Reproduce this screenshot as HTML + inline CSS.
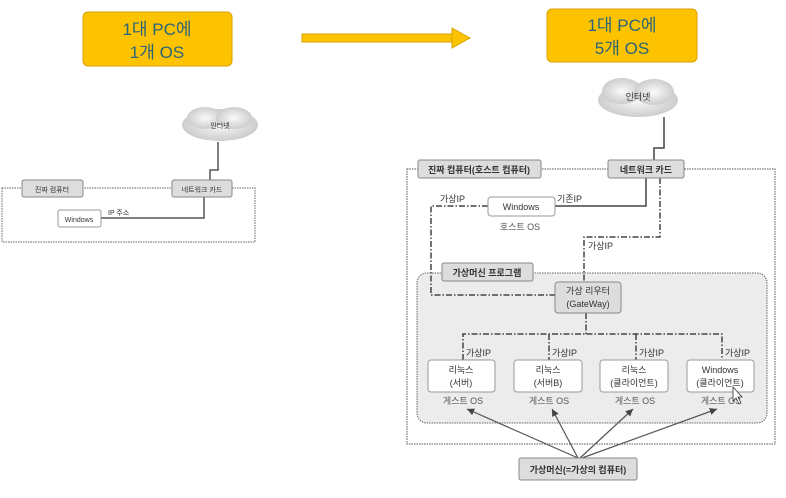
<!DOCTYPE html>
<html><head><meta charset="utf-8"><style>
body{margin:0;background:#fff;}
svg text{font-family:"Liberation Sans","Noto Sans CJK KR",sans-serif;}
</style></head><body>
<svg width="786" height="493" viewBox="0 0 786 493" xmlns="http://www.w3.org/2000/svg">
<defs>
<radialGradient id="cg" cx="0.5" cy="0.5" r="0.6"><stop offset="0" stop-color="#fafafa"/><stop offset="1" stop-color="#c4c4c4"/></radialGradient>
<marker id="ah" markerWidth="8" markerHeight="8" refX="6" refY="3" orient="auto"><path d="M0,0 L6,3 L0,6z" fill="#444"/></marker>
</defs>
<!-- titles -->
<rect x="83" y="12" width="149" height="54" rx="5" fill="#fdc300" stroke="#d9a200"/>
<text x="157" y="35" font-size="17" text-anchor="middle" fill="#2a6478">1대 PC에</text>
<text x="157" y="58" font-size="17" text-anchor="middle" fill="#2a6478">1개 OS</text>
<rect x="547" y="9" width="150" height="53" rx="5" fill="#fdc300" stroke="#d9a200"/>
<text x="622" y="31" font-size="17" text-anchor="middle" fill="#2a6478">1대 PC에</text>
<text x="622" y="54" font-size="17" text-anchor="middle" fill="#2a6478">5개 OS</text>
<rect x="302" y="34" width="150" height="8" fill="#fdc300" stroke="#d9a200"/>
<path d="M452,28 L470,38 L452,48z" fill="#fdc300" stroke="#d9a200"/>

<!-- left diagram -->
<g font-size="7" fill="#333">
<ellipse cx="220" cy="125" rx="38" ry="16" fill="url(#cg)"/>
<ellipse cx="205" cy="118" rx="18" ry="11" fill="url(#cg)"/>
<ellipse cx="234" cy="118" rx="18" ry="11" fill="url(#cg)"/>
<text x="220" y="128" text-anchor="middle">인터넷</text>
<rect x="2" y="188" width="253" height="54" fill="none" stroke="#666" stroke-dasharray="1.5,1"/>
<path d="M218,142 V170 H210 V180" fill="none" stroke="#555" stroke-width="1.5"/>
<path d="M101,218 H204 V197" fill="none" stroke="#555" stroke-width="1.5"/>
<rect x="22" y="180" width="61" height="17" rx="2" fill="#ddd" stroke="#888"/>
<text x="52" y="192" text-anchor="middle">진짜 컴퓨터</text>
<rect x="172" y="180" width="60" height="17" rx="2" fill="#ddd" stroke="#888"/>
<text x="202" y="192" text-anchor="middle">네트워크 카드</text>
<rect x="58" y="210" width="43" height="17" rx="2" fill="#fff" stroke="#999"/>
<text x="79" y="222" text-anchor="middle">Windows</text>
<text x="108" y="215">IP 주소</text>
</g>

<!-- right diagram -->
<g font-size="9" fill="#333">
<ellipse cx="638" cy="100" rx="40" ry="17" fill="url(#cg)"/>
<ellipse cx="622" cy="91" rx="20" ry="13" fill="url(#cg)"/>
<ellipse cx="654" cy="92" rx="20" ry="13" fill="url(#cg)"/>
<text x="638" y="100" text-anchor="middle">인터넷</text>
<rect x="407" y="169" width="368" height="275" fill="none" stroke="#555" stroke-dasharray="1.5,1"/>
<rect x="417" y="273" width="350" height="150" rx="10" fill="#ececec" stroke="#666" stroke-dasharray="1.5,1"/>
<path d="M664,117 V148 H654 V160" fill="none" stroke="#444" stroke-width="1.5"/>
<path d="M555,206 H646 V178" fill="none" stroke="#444" stroke-width="1.5"/>
<g fill="none" stroke="#444" stroke-width="1.5" stroke-dasharray="6,2,1.5,2">
<path d="M488,206 H431 V295 H555"/>
<path d="M660,178 V237 H584 V282"/>
<path d="M586,313 V334"/>
<path d="M463,360 V334 H722 V360"/>
<path d="M549,334 V360"/>
<path d="M636,334 V360"/>
</g>
<rect x="418" y="160" width="123" height="18" rx="2" fill="#ddd" stroke="#888"/>
<text x="479" y="173" text-anchor="middle" font-weight="bold">진짜 컴퓨터(호스트 컴퓨터)</text>
<rect x="608" y="160" width="76" height="18" rx="2" fill="#ddd" stroke="#888"/>
<text x="646" y="173" text-anchor="middle" font-weight="bold">네트워크 카드</text>
<rect x="488" y="197" width="67" height="19" rx="3" fill="#fff" stroke="#999"/>
<text x="521" y="210" text-anchor="middle">Windows</text>
<text x="520" y="230" text-anchor="middle" fill="#555">호스트 OS</text>
<text x="557" y="202">기존IP</text>
<text x="440" y="202">가상IP</text>
<text x="588" y="249">가상IP</text>
<rect x="442" y="263" width="91" height="18" rx="2" fill="#ddd" stroke="#888"/>
<text x="487" y="276" text-anchor="middle" font-weight="bold">가상머신 프로그램</text>
<rect x="555" y="282" width="66" height="31" rx="3" fill="#ddd" stroke="#888"/>
<text x="588" y="294" text-anchor="middle">가상 리우터</text>
<text x="588" y="307" text-anchor="middle">(GateWay)</text>
<text x="466" y="356">가상IP</text>
<text x="552" y="356">가상IP</text>
<text x="639" y="356">가상IP</text>
<text x="725" y="356">가상IP</text>
<rect x="428" y="360" width="67" height="32" rx="3" fill="#fff" stroke="#999"/>
<text x="461" y="373" text-anchor="middle">리눅스</text><text x="461" y="386" text-anchor="middle">(서버)</text>
<rect x="514" y="360" width="68" height="32" rx="3" fill="#fff" stroke="#999"/>
<text x="548" y="373" text-anchor="middle">리눅스</text><text x="548" y="386" text-anchor="middle">(서버B)</text>
<rect x="600" y="360" width="68" height="32" rx="3" fill="#fff" stroke="#999"/>
<text x="634" y="373" text-anchor="middle">리눅스</text><text x="634" y="386" text-anchor="middle">(클라이언트)</text>
<rect x="687" y="360" width="67" height="32" rx="3" fill="#fff" stroke="#999"/>
<text x="720" y="373" text-anchor="middle">Windows</text><text x="720" y="386" text-anchor="middle">(클라이언트)</text>
<g fill="#555" text-anchor="middle">
<text x="463" y="404">게스트 OS</text><text x="549" y="404">게스트 OS</text>
<text x="635" y="404">게스트 OS</text><text x="721" y="404">게스트 OS</text>
</g>
<path d="M733,387 L733,401 L736,398 L739,404 L741,403 L738,397 L742,397z" fill="#fff" stroke="#333" stroke-width="0.8"/>
<g stroke="#555" stroke-width="1.2" fill="none" marker-end="url(#ah)">
<path d="M578,458 L467,409"/><path d="M578,458 L552,409"/>
<path d="M580,458 L633,409"/><path d="M582,458 L717,409"/>
</g>
<rect x="519" y="458" width="118" height="22" rx="2" fill="#ddd" stroke="#888"/>
<text x="578" y="473" text-anchor="middle" font-weight="bold">가상머신(=가상의 컴퓨터)</text>
</g>
</svg>
</body></html>
